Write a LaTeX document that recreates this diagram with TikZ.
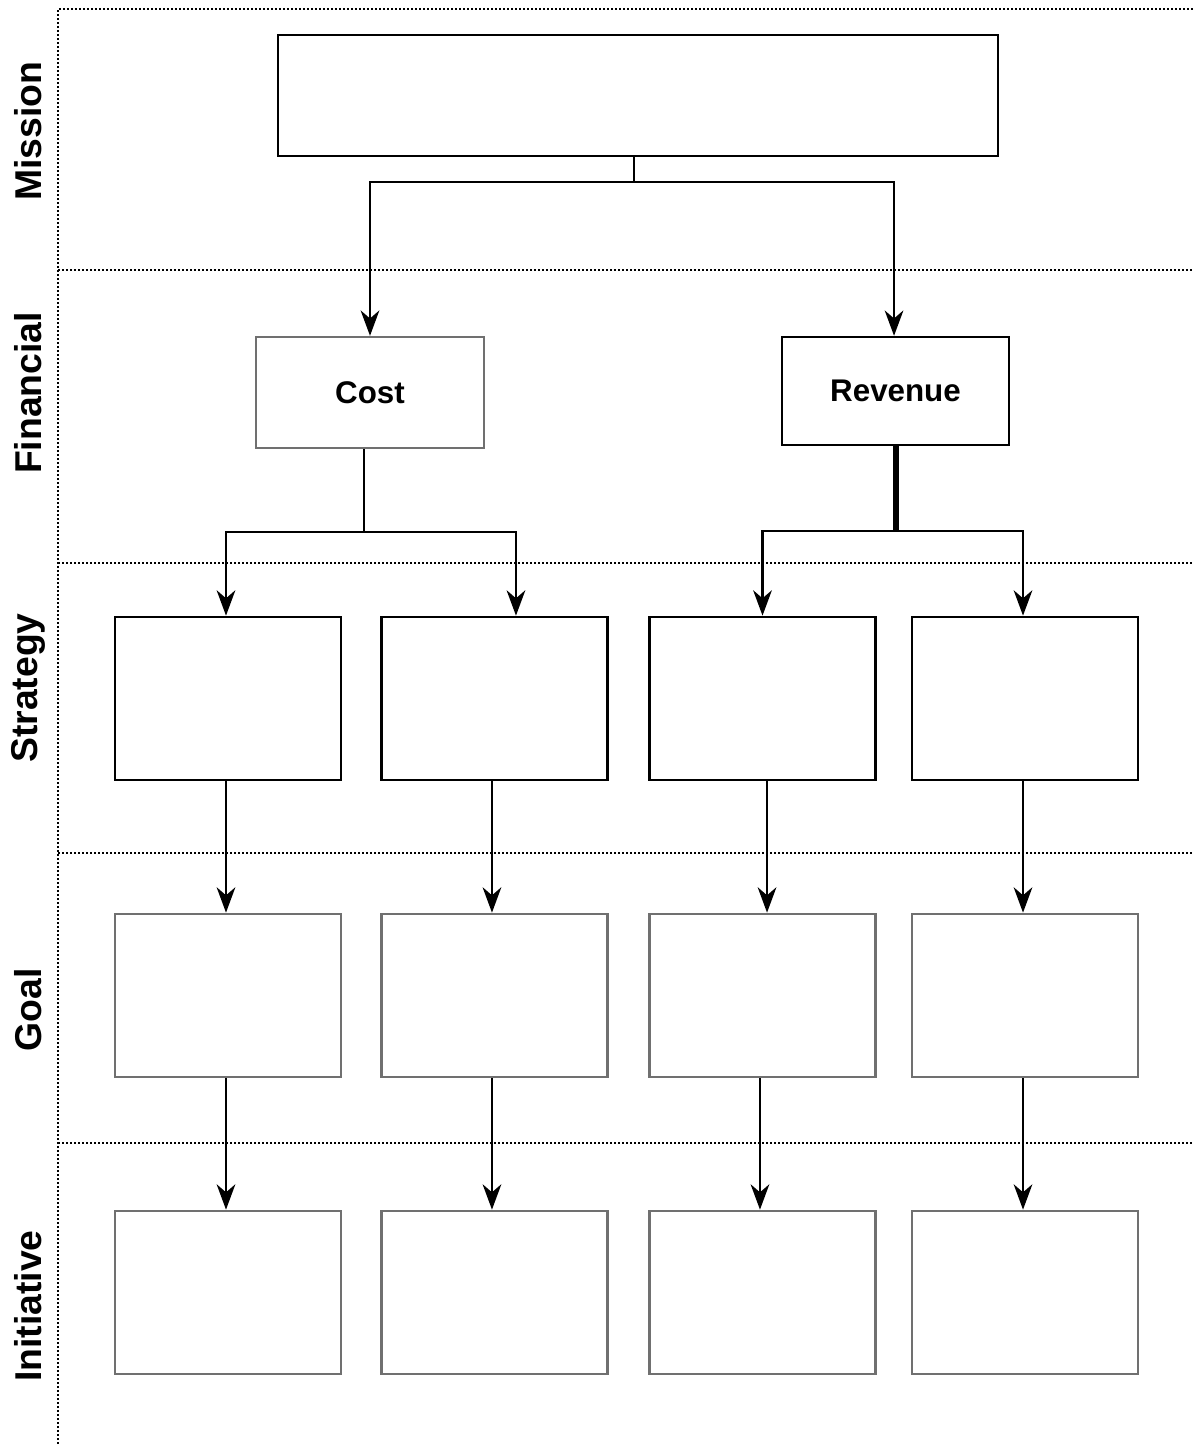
\documentclass[tikz,border=0pt]{standalone}
\usepackage{fontspec}
\setmainfont{Liberation Sans}
\usetikzlibrary{arrows.meta}
\definecolor{boxgray}{HTML}{707070}
\begin{document}
\begin{tikzpicture}[x=0.75pt,y=-0.75pt,
  box/.style={draw=black,line width=1.8pt,rectangle,inner sep=0pt,fill=white},
  graybox/.style={box,draw=boxgray},
  colbox/.style={minimum width=169.5pt,minimum height=122.5pt},
  lane/.style={line width=1.9pt,dash pattern=on 1.4pt off 1.6pt},
  lanelabel/.style={rotate=90,font=\fontsize{28}{30}\selectfont\bfseries},
  boxtext/.style={font=\fontsize{23.5}{26}\selectfont\bfseries},
  conn/.style={line width=1.8pt},
  arr/.style={conn,-{Stealth[length=19pt,width=14pt,inset=6pt]}}]
\useasboundingbox (0,0) rectangle (1194,1444);
% lanes
\coordinate (lt) at (58,9);
\coordinate (lb) at (58,1444);
\draw[lane] (lb) -- (lt) -- (1194,9);
\foreach \yy/\nm in {270/a,563/b,853/c,1143/d}{
  \coordinate (l\nm) at (58,\yy);
  \draw[lane] (l\nm) -- ++(1136,0);
}
% lane labels
\node[lanelabel] (lmission) at (28,131) {Mission};
\node[lanelabel] (lfin) at (28,393) {Financial};
\node[lanelabel] (lstrat) at (28,688) {Strategy};
\node[lanelabel] (lgoal) at (28,1010) {Goal};
\node[lanelabel] (linit) at (28,1306) {Initiative};
% boxes
\node[box,minimum width=540pt,minimum height=90.75pt] (mission) at (638,95.5) {};
\node[graybox,boxtext,minimum width=171pt,minimum height=83.25pt] (cost) at (370,392.5) {Cost};
\node[box,boxtext,minimum width=170.25pt,minimum height=81pt] (revenue) at (895.5,391) {Revenue};
\foreach \i/\cx in {1/228,2/494.5,3/762.5,4/1025}{
  \node[box,colbox] (s\i) at (\cx,698.5) {};
  \node[graybox,colbox] (g\i) at (\cx,995.5) {};
  \node[graybox,colbox] (n\i) at (\cx,1292.5) {};
}
% connectors
\coordinate (mj) at (634,182);
\draw[conn] (mission.south -| mj) -- (mj);
\draw[arr] (mj) -| (cost.north);
\draw[arr] (mj) -| ([xshift=-1.1pt]revenue.north);
\coordinate (cj) at (364,532);
\draw[conn] (cost.south -| cj) -- (cj);
\draw[arr] (cj) -| ([xshift=-1.5pt]s1.north);
\draw[arr] (cj) -| ([xshift=16.1pt]s2.north);
\coordinate (rj) at (896,531);
\draw[conn] ([xshift=-1.1pt]revenue.south -| rj) -- ([xshift=-1.1pt]rj);
\draw[conn] ([xshift=1.1pt]revenue.south -| rj) -- ([xshift=1.1pt]rj);
\draw[arr] (rj) -| (s3.north);
\draw[arr] (rj) -| ([xshift=-1.5pt]s4.north);
\draw[arr] ([xshift=-1.5pt]s1.south) -- ([xshift=-1.5pt]g1.north);
\draw[arr] ([xshift=-1.9pt]s2.south) -- ([xshift=-1.9pt]g2.north);
\draw[arr] ([xshift=3.4pt]s3.south) -- ([xshift=3.4pt]g3.north);
\draw[arr] ([xshift=-1.5pt]s4.south) -- ([xshift=-1.5pt]g4.north);
\draw[arr] ([xshift=-1.5pt]g1.south) -- ([xshift=-1.5pt]n1.north);
\draw[arr] ([xshift=-1.9pt]g2.south) -- ([xshift=-1.9pt]n2.north);
\draw[arr] ([xshift=-1.9pt]g3.south) -- ([xshift=-1.9pt]n3.north);
\draw[arr] ([xshift=-1.5pt]g4.south) -- ([xshift=-1.5pt]n4.north);
\end{tikzpicture}
\end{document}
